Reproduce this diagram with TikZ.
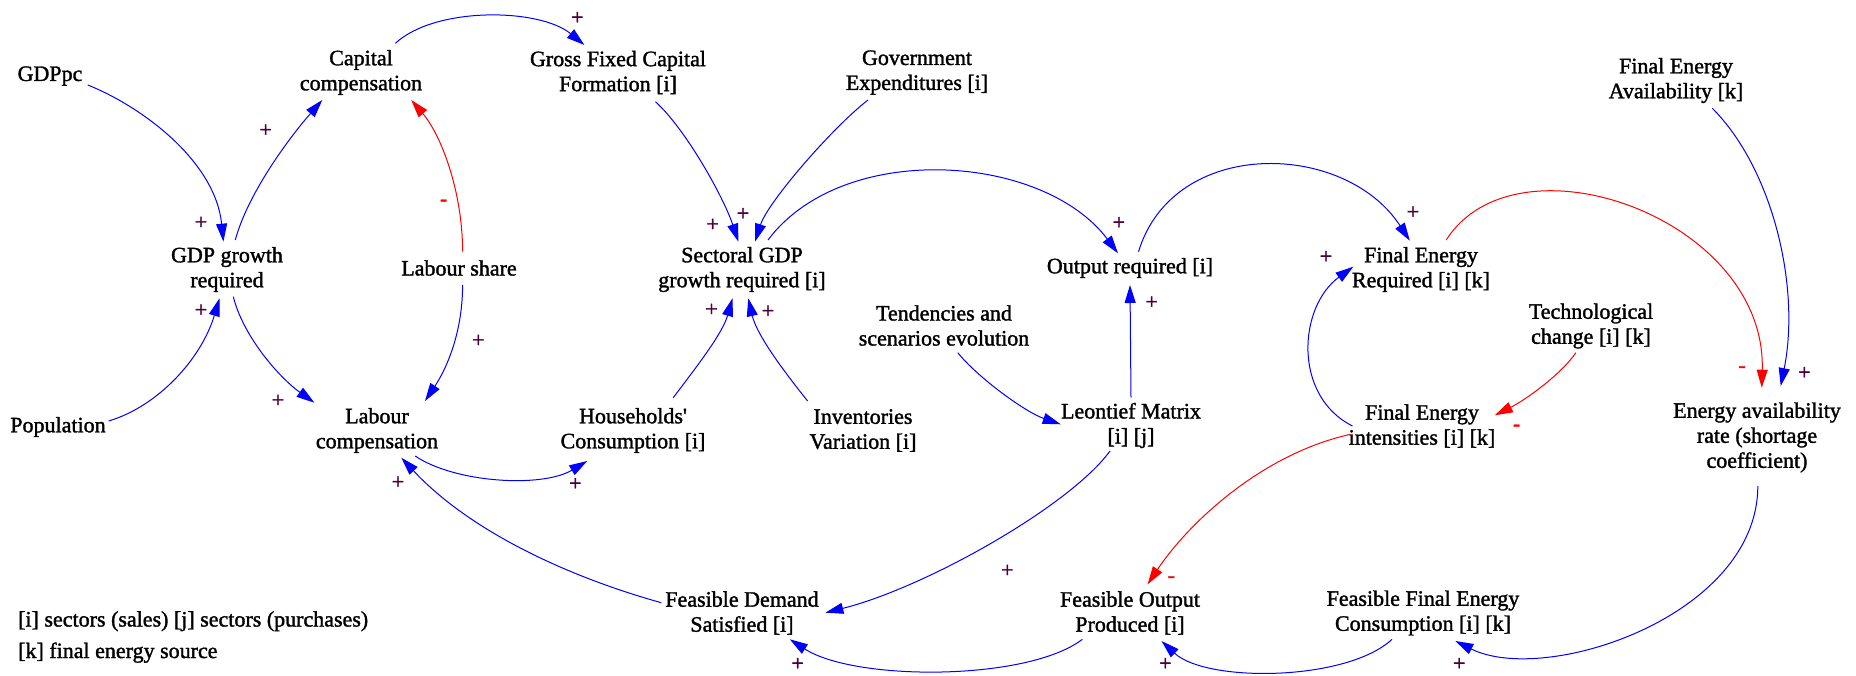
\documentclass[tikz,border=0pt]{standalone}
\usepackage{fontspec}
\setmainfont{Liberation Serif}[FakeBold=1.5]
\usetikzlibrary{arrows.meta,calc}
\definecolor{lnblue}{RGB}{0,0,255}
\definecolor{lnred}{RGB}{255,0,0}
\definecolor{signc}{RGB}{75,0,55}
\begin{document}
\begin{tikzpicture}[x=1pt,y=-1pt,
  var/.style={align=center,inner sep=0pt,font=\fontsize{22}{25}\selectfont},
  possign/.style={font=\fontsize{22}{25}\selectfont,text=signc,inner sep=0pt},
  negsign/.style={font=\fontsize{22}{25}\selectfont,text=lnred,inner sep=0pt},
  blink/.style={draw=lnblue,line width=1pt,-{Triangle[length=18pt,width=11pt]}},
  rlink/.style={draw=lnred,line width=1pt,-{Triangle[length=18pt,width=11pt]}}]
\useasboundingbox (0,0) rectangle (1856,676);
% nodes
\node[var] (gdppc) at (50,76) {GDPpc};
\node[var] (cap) at (361,72.5) {Capital\\compensation};
\node[var] (gfcf) at (618,72.5) {Gross Fixed Capital\\Formation [i]};
\node[var] (gov) at (917,72.5) {Government\\Expenditures [i]};
\node[var] (fea) at (1676,80.5) {Final Energy\\Availability [k]};
\node[var] (gdpg) at (227,269.5) {GDP growth\\required};
\node[var] (lshare) at (459,268) {Labour share};
\node[var] (sgdp) at (742,269.5) {Sectoral GDP\\growth required [i]};
\node[var] (outreq) at (1130,268) {Output required [i]};
\node[var] (fereq) at (1421,269.5) {Final Energy\\Required [i] [k]};
\node[var] (tend) at (944,325.5) {Tendencies and\\scenarios evolution};
\node[var] (tech) at (1591,326) {Technological\\change [i] [k]};
\node[var] (pop) at (58,427) {Population};
\node[var] (lcomp) at (377,430.5) {Labour\\compensation};
\node[var] (hh) at (633,430.5) {Households\textquotesingle\\Consumption [i]};
\node[var] (inv) at (863,430.5) {Inventories\\Variation [i]};
\node[var] (leon) at (1131,425.5) {Leontief Matrix\\{}[i] [j]};
\node[var] (feint) at (1422,426) {Final Energy\\intensities [i] [k]};
\node[var] (ear) at (1757,437.5) {Energy availability\\rate (shortage\\coefficient)};
\node[var] (fds) at (742,613) {Feasible Demand\\Satisfied [i]};
\node[var] (fop) at (1130,613) {Feasible Output\\Produced [i]};
\node[var] (ffec) at (1423,613) {Feasible Final Energy\\Consumption [i] [k]};
\node[var,anchor=west,align=left,font=\fontsize{22}{31.5}\selectfont] (legend) at (18,637)
  {[i] sectors (sales) [j] sectors (purchases)\\{}[k] final energy source};
% links
\draw[blink] ($(gdppc)+(37.8,9)$) .. controls +(55,22) and +(-8,-80) .. ($(gdpg)+(-3.6,-27.8)$);
\draw[blink] ($(pop)+(50.7,-6)$) .. controls +(50,-15) and +(-18,60) .. ($(gdpg)+(-7.5,28.8)$);
\draw[blink] ($(gdpg)+(8.3,-29.5)$) .. controls +(12,-45) and +(-35,40) .. ($(cap)+(-38.7,27.5)$);
\draw[blink] ($(gdpg)+(6.3,27.2)$) .. controls +(10,40) and +(-35,-25) .. ($(lcomp)+(-62.6,-27.8)$);
\draw[rlink] ($(lshare)+(3.6,-16.3)$) .. controls +(0,-60) and +(30,35) .. ($(cap)+(50.2,27.5)$);
\draw[blink] ($(lshare)+(3.6,17)$) .. controls +(0,50) and +(20,-30) .. ($(lcomp)+(48,-29.5)$);
\draw[blink] ($(cap)+(34.4,-29.2)$) .. controls +(40,-37) and +(-45,-37) .. ($(gfcf)+(-33.6,-27.5)$);
\draw[blink] ($(gfcf)+(37.4,29.2)$) .. controls +(30,27) and +(-15,-45) .. ($(sgdp)+(-3.6,-27.8)$);
\draw[blink] ($(gov)+(-49,27.5)$) .. controls +(-35,27) and +(13,-40) .. ($(sgdp)+(13,-27.8)$);
\draw[blink] ($(hh)+(40.2,-32.8)$) .. controls +(25,-33) and +(-10,35) .. ($(sgdp)+(-9.5,28.8)$);
\draw[blink] ($(inv)+(-55.4,-29.5)$) .. controls +(-28,-35) and +(8,35) .. ($(sgdp)+(6.3,28.8)$);
\draw[blink] ($(lcomp)+(38.2,25.5)$) .. controls +(40,27) and +(-45,27) .. ($(hh)+(-45.8,30.5)$);
\draw[blink] ($(sgdp)+(26,-29.5)$) .. controls +(75,-100) and +(-75,-100) .. ($(outreq)+(-12,-14.7)$);
\draw[blink] ($(outreq)+(8.5,-16.3)$) .. controls +(35,-115) and +(-65,-100) .. ($(fereq)+(-11.2,-28.8)$);
\draw[blink] ($(leon)+(0,-28)$) -- ($(outreq)+(0,17)$);
\draw[blink] ($(tend)+(13.8,27.2)$) .. controls +(20,25) and +(-35,-12) .. ($(leon)+(-70.3,-1.2)$);
\draw[blink] ($(leon)+(-21,25.5)$) .. controls +(-40,55) and +(100,-25) .. ($(fds)+(83.4,-0.3)$);
\draw[blink] ($(fds)+(-80.7,-10.3)$) .. controls +(-90,-25) and +(70,75) .. ($(lcomp)+(24.3,27.2)$);
\draw[blink] ($(fop)+(-47.6,26.3)$) .. controls +(-55,42) and +(65,42) .. ($(fds)+(47.8,26.3)$);
\draw[blink] ($(ffec)+(-31,26.3)$) .. controls +(-45,42) and +(45,42) .. ($(fop)+(31.5,28)$);
\draw[blink] ($(ear)+(0.8,48.5)$) .. controls +(0,130) and +(90,45) .. ($(ffec)+(32.3,28)$);
\draw[blink] ($(fea)+(36.3,27.8)$) .. controls +(60,60) and +(20,-100) .. ($(ear)+(23.7,-51.5)$);
\draw[rlink] ($(fereq)+(25.2,-29.5)$) .. controls +(70,-110) and +(5,-170) .. ($(ear)+(4.7,-49.8)$);
\draw[rlink] ($(tech)+(-15.1,26.7)$) .. controls +(-15,22) and +(30,-15) .. ($(feint)+(72.8,-10.7)$);
\draw[blink] ($(feint)+(-69.5,0)$) .. controls +(-60,-30) and +(-55,40) .. ($(fereq)+(-67.7,-2.8)$);
\draw[rlink] ($(feint)+(-71.5,8.3)$) .. controls +(-90,20) and +(40,-60) .. ($(fop)+(17.6,-28.7)$);
% polarity signs
\node[possign] (p1) at (201,223) {+};
\node[possign] (p2) at (201,310.7) {+};
\node[possign] (p3) at (265.7,130.7) {+};
\node[possign] (p4) at (278,401) {+};
\node[negsign] (p5) at (443.6,202.7) {-};
\node[possign] (p6) at (478.4,341) {+};
\node[possign] (p7) at (577.3,18.3) {+};
\node[possign] (p8) at (712.7,225) {+};
\node[possign] (p9) at (743,214.3) {+};
\node[possign] (p10) at (711.5,310) {+};
\node[possign] (p11) at (768,311.7) {+};
\node[possign] (p12) at (575.3,484.3) {+};
\node[possign] (p13) at (1118.8,223.3) {+};
\node[possign] (p14) at (1413,212.7) {+};
\node[possign] (p15) at (1151.6,302.7) {+};
\node[possign] (p17) at (1007.3,571) {+};
\node[possign] (p18) at (398,482.7) {+};
\node[possign] (p19) at (797.7,664.3) {+};
\node[possign] (p20) at (1165.4,664.3) {+};
\node[possign] (p21) at (1459.2,664.3) {+};
\node[possign] (p22) at (1804.4,373.3) {+};
\node[negsign] (p23) at (1742,369.3) {-};
\node[negsign] (p24) at (1516.6,427.7) {-};
\node[possign] (p25) at (1326,257.3) {+};
\node[negsign] (p26) at (1171.3,579.3) {-};
\end{tikzpicture}
\end{document}
